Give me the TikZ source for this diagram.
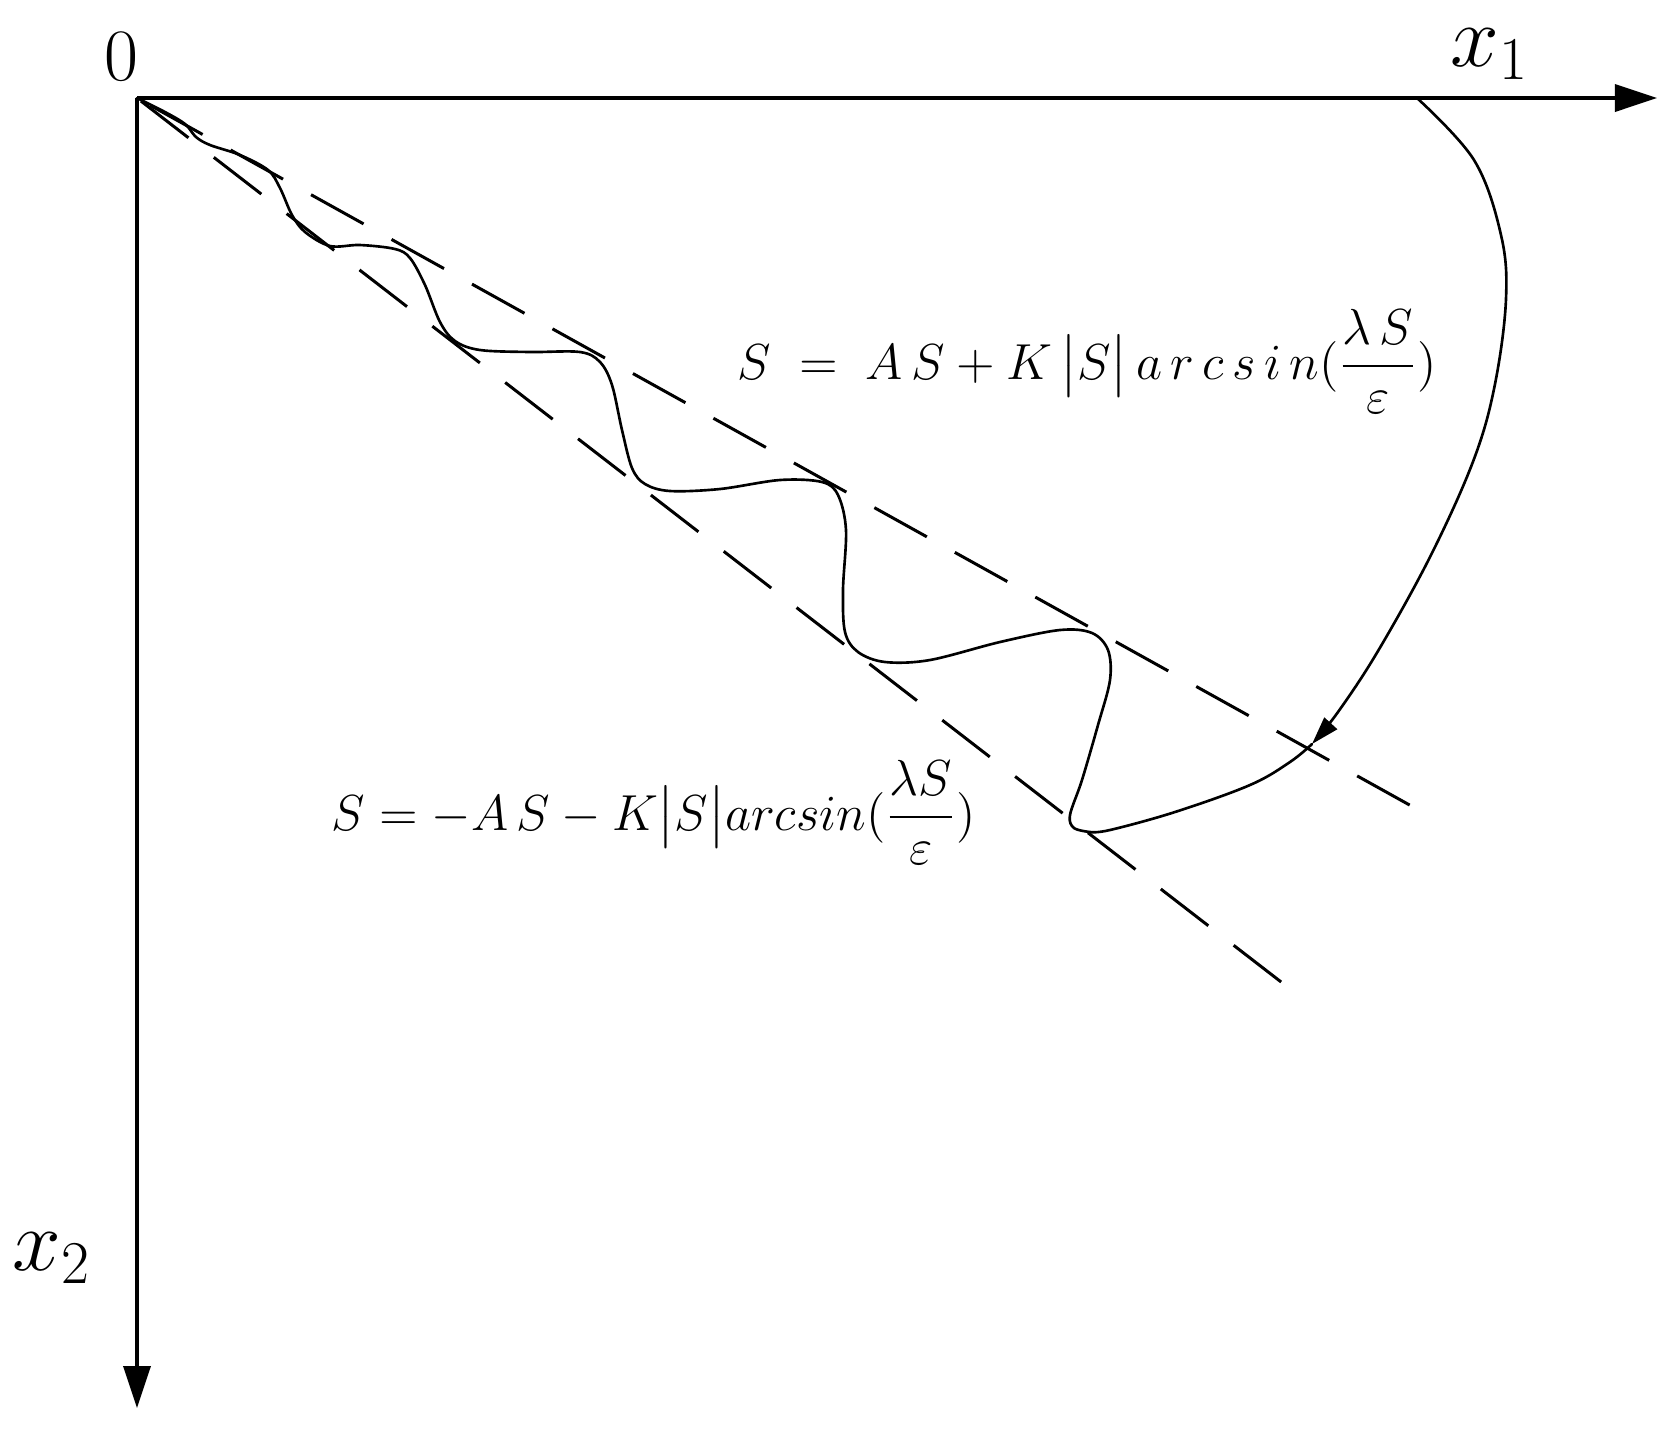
\documentclass[tikz,border=0pt]{standalone}
\usepackage{amsmath}
\usetikzlibrary{arrows.meta}
\begin{document}
\begin{tikzpicture}[x=0.01cm,y=-0.01cm,
  axis/.style={line width=1pt,-{Triangle[length=0.42cm,width=0.27cm]}},
  guide/.style={line width=0.85pt, dash pattern=on 0.6cm off 0.32cm},
  traj/.style={line width=0.75pt, line join=round, line cap=round},
  eqn/.style={anchor=base west, inner sep=0pt, font=\fontsize{13.5}{16}\selectfont},
  axlabel/.style={inner sep=0pt, font=\fontsize{27}{30}\selectfont}]
\useasboundingbox (0,0) rectangle (1675,1429);
% axes
\coordinate (O) at (137,98);
\coordinate (X1) at (1657,98);
\coordinate (X2) at (137,1408);
\draw[axis] (O) -- (X1);
\draw[axis] (O) -- (X2);
% boundary lines
\coordinate (U) at (1415,808);
\coordinate (L) at (1298,995);
\draw[guide, dash phase=0.77cm] (O) -- (U);
\draw[guide, dash phase=0.87cm] (O) -- (L);
% labels
\node[inner sep=0pt, font=\fontsize{21}{24}\selectfont] (zero) at (121,57) {0};
\node[axlabel] (lx1) at (1490,54) {$x_1$};
\node[axlabel] (lx2) at (52,1258) {$x_2$};
\node[eqn] (f1) at (737,379) {$S\;=\;A\,S+K\,\bigl|S\bigr|\,a\,r\,c\,s\,i\,n(\dfrac{\lambda\,S}{\varepsilon})$};
\node[eqn] (f2) at (331,830) {$S=-A\,S-K\bigl|S\bigr|arcsin(\dfrac{\lambda S}{\varepsilon})$};
% reaching trajectory with arrow
\coordinate (A0) at (1417,98);
\coordinate (A1) at (1312,744);
\coordinate (B1) at (1090,832);
\draw[traj, -{Triangle[length=0.28cm,width=0.17cm]}] plot[smooth, tension=0.6] coordinates {
  (A0) (1474,160) (1501,235) (1506,299) (1495,384) (1474,459) (1431,555) (1378,651) (1338,712) (A1)};
\draw[traj] plot[smooth, tension=0.6] coordinates {
  (A1) (1290,762) (1250,785) (1175,812) (1110,830) (B1)};
% sliding (chattering) trajectory back to origin
\draw[traj] plot[smooth, tension=0.55] coordinates {
  (B1) (1074,828) (1070,815) (1082,780) (1098,725) (1110,680) (1108,650) (1092,633)
  (1060,630) (1000,642) (930,660) (885,662) (858,652)
  (845,632) (843,590) (846,530) (838,495) (822,482)
  (780,480) (720,489) (670,491) (645,484)
  (632,468) (622,430) (612,385) (600,362) (580,352)
  (530,352) (480,350) (455,341)
  (440,322) (425,285) (410,258) (395,249)
  (360,245) (330,246)
  (305,232) (292,215) (280,188) (268,170)
  (240,155) (210,145) (196,137) (185,124) (165,112) (O)};
\end{tikzpicture}
\end{document}
